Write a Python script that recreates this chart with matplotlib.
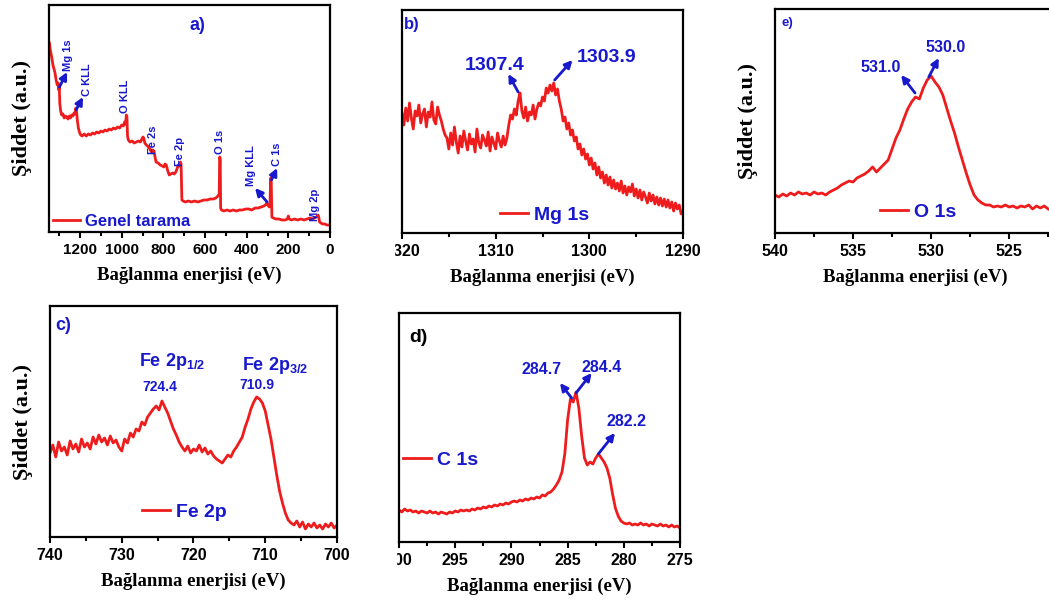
import matplotlib.pyplot as plt
import numpy as np
from matplotlib.patches import Rectangle
from matplotlib.ticker import MultipleLocator

plt.rcParams['font.family'] = ['Liberation Sans', 'DejaVu Sans']
plt.rcParams['font.weight'] = 'bold'
plt.rcParams['mathtext.default'] = 'regular'

RED = '#ee1c1c'
BLUE = '#1818cc'

# a) survey: binding energy (eV) and intensity (a.u.)
survey_ev = [1347, 1342, 1336, 1330, 1325, 1320, 1315, 1309, 1305, 1302, 1300, 1297, 1293, 1288,
             1282, 1276, 1270, 1264, 1258, 1252, 1246, 1240, 1234, 1229, 1224, 1220, 1217, 1213,
             1208, 1203, 1197, 1190, 1180, 1170, 1160, 1150, 1140, 1130, 1120, 1110, 1100, 1090,
             1080, 1070, 1060, 1050, 1040, 1030, 1020, 1010, 1000, 992, 986, 981, 978, 975, 972,
             968, 960, 950, 940, 930, 920, 910, 903, 898, 894, 889, 882, 875, 868, 860, 855, 850,
             845, 840, 835, 825, 815, 805, 798, 792, 786, 780, 772, 765, 755, 748, 740, 733, 728,
             722, 718, 715, 711, 705, 695, 680, 665, 650, 635, 620, 605, 590, 575, 560, 548, 538,
             532, 529, 527, 525, 521, 510, 495, 480, 465, 450, 435, 420, 405, 390, 375, 360, 345,
             330, 318, 310, 304, 298, 292, 288, 285, 282, 279, 272, 260, 245, 230, 215, 205, 200,
             196, 185, 170, 155, 140, 125, 110, 96, 85, 75, 65, 58, 55, 50, 44, 35, 25, 15, 5, 0]
survey_int = [189, 181, 175, 167, 163, 159, 152, 147, 149, 142, 146, 128, 121, 117,
              118, 114, 116, 115, 113, 116, 114, 117, 116, 119, 118, 124, 121, 112,
              104, 100, 97, 96, 98, 96, 98, 97, 99, 98, 100, 99, 101, 100,
              102, 101, 103, 102, 104, 103, 105, 104, 107, 106, 110, 108, 117, 116, 96,
              92, 90, 91, 89, 90, 91, 90, 93, 95, 94, 89, 87, 86, 84, 81, 80, 82,
              81, 75, 70, 69, 67, 66, 65, 68, 67, 62, 57, 58, 59, 58, 60, 64, 67,
              66, 70, 68, 32, 31, 30, 31, 30, 31, 30, 31, 32, 32, 33, 33, 34, 36,
              38, 75, 72, 24, 22, 21, 22, 21, 22, 21, 22, 22, 23, 23, 22, 24, 24,
              25, 26, 27, 29, 27, 25, 27, 54, 50, 15, 14, 13, 13, 12, 12, 13, 16,
              13, 12, 13, 12, 13, 12, 13, 14, 13, 14, 15, 17, 16, 10, 9, 8, 8, 7, 7, 7]

# b) Mg 1s, 1320 -> 1290 eV, evenly sampled
mg_int = [120, 108, 125, 112, 130, 115, 104, 122, 117, 128, 110, 119, 124, 106, 121, 116, 131, 113,
          109, 126, 118, 112, 104, 98,
          95, 84, 100, 88, 106, 91, 80, 97, 86, 102, 92, 83, 99, 89, 94, 81, 104, 90, 85, 98, 93,
          87, 101, 82, 96, 90, 84, 100, 92, 86, 97, 88, 95,
          108, 118, 114, 124, 118, 132, 140, 122, 115, 126, 112, 121, 118, 128, 114, 124,
          130, 127, 136, 132, 145, 140, 148, 142, 150, 138, 144, 132, 124, 112, 116, 104, 110,
          98, 103, 92, 96, 84, 89, 78, 84, 74, 79, 68, 75, 64, 70, 58, 66, 55, 61, 50, 58, 48,
          56, 45, 53, 44, 50, 42, 52, 40, 47, 38, 46, 41, 49, 37, 44, 35, 43, 33, 41, 36, 30,
          40, 32, 38, 29, 36, 28, 35, 27, 34, 26, 33, 25, 31, 22, 30, 24, 28, 19, 22]

# e) O 1s, 540 -> 522.5 eV, evenly sampled
o_int = [38, 36, 39, 37, 40, 38, 41, 39, 40, 38, 41, 39, 40, 38, 41, 43, 45, 48, 50, 52, 51, 55,
         57, 59, 62, 66, 61, 65, 69, 73, 84, 95, 103, 114, 124, 131, 136, 134, 145, 153, 157, 151,
         146, 138, 125, 112, 100, 86, 73, 60, 48, 38, 33, 30, 28, 28, 26, 27, 26, 28, 26, 27, 25,
         27, 26, 28, 24, 27, 25, 27, 24]

# c) Fe 2p, 740 -> 700 eV, evenly sampled
fe_int = [84, 92, 80, 95, 86, 90, 82, 96, 88, 93, 85, 98, 90, 94, 88, 100, 93, 102, 95, 99, 92,
          101, 94, 97, 90, 86, 98, 94, 104, 100, 108, 106, 115, 112, 120, 124, 128, 131, 127, 136,
          130, 124, 116, 108, 102, 95, 90, 86, 91, 84, 88, 86, 92, 85, 89, 83, 86, 81, 78, 76, 74,
          78, 82, 80, 86, 90, 95, 100, 110, 118, 128, 135, 140, 138, 134, 126, 112, 98, 80, 62,
          46, 34, 24, 17, 14, 12, 16, 10, 15, 8, 13, 10, 14, 9, 12, 8, 13, 10, 14, 9, 12]

# d) C 1s, 300 -> 275 eV, evenly sampled
c_int = [32, 30, 33, 31, 32, 30, 31, 29, 31, 30, 29, 31, 29, 30, 28, 30, 29, 28, 30, 29, 31, 30,
         32, 31, 32, 31, 33, 32, 34, 33, 35, 34, 36, 35, 37, 36, 38, 37, 39, 38, 40, 41, 40, 42,
         41, 43, 42, 44, 43, 45, 44, 47, 46, 49, 50, 53, 57, 62, 70, 88, 122, 143, 140, 150, 134,
         106, 84, 77, 80, 78, 84, 88, 84, 80, 74, 64, 48, 34, 26, 21, 19, 18, 19, 17, 18, 17, 19,
         17, 18, 16, 18, 17, 16, 18, 16, 17, 15, 17, 15, 16, 14]

W, H = 1049, 601
fig = plt.figure(figsize=(W / 100, H / 100), dpi=100)


def panel(x0, y0, x1, y1):
    return fig.add_axes([x0 / W, 1 - y1 / H, (x1 - x0) / W, (y1 - y0) / H])


def style(ax, xlim, major, minor, height, ylabel=True, tsize=11.5):
    ax.set_xlim(*xlim)
    ax.set_ylim(0, height)
    ax.xaxis.set_major_locator(MultipleLocator(major))
    ax.xaxis.set_minor_locator(MultipleLocator(minor))
    ax.set_yticks([])
    ax.tick_params(axis='x', which='major', direction='out', length=4, width=1.5,
                   labelsize=tsize, pad=4)
    ax.tick_params(axis='x', which='minor', direction='out', length=3, width=1.5)
    for s in ax.spines.values():
        s.set_linewidth(1.6)
    ax.set_xlabel('Bağlanma enerjisi (eV)', family='Liberation Serif', fontsize=13.5,
                  fontweight='bold', labelpad=7)
    if ylabel:
        ax.set_ylabel('Şiddet (a.u.)', family='Liberation Serif', fontsize=16,
                      fontweight='bold', labelpad=12)


def legend(ax, line, label, x, y, size=14, hl=1.45):
    ax.legend([line], [label], loc='center left', bbox_to_anchor=(x, y), frameon=False,
              borderpad=0, borderaxespad=0, handlelength=hl, handletextpad=0.3,
              prop=dict(weight='bold', size=size), labelcolor=BLUE)


def arrow(ax, tail, head):
    ax.annotate('', xy=head, xytext=tail,
                arrowprops=dict(arrowstyle='-|>', color=BLUE, lw=2, mutation_scale=11,
                                shrinkA=0, shrinkB=0))


# a) survey
ax = panel(49, 5, 330, 232)
ln, = ax.plot(survey_ev, survey_int, color=RED, lw=2)
style(ax, (1349, 0), 200, 100, 227, tsize=11)
legend(ax, ln, 'Genel tarama', 0.014, 0.048, size=12, hl=1.6)
ax.text(638, 207, 'a)', color=BLUE, fontsize=13, ha='center', va='center')
for txt, x, y in [('Mg 1s', 1256, 177), ('C KLL', 1168, 152), ('O KLL', 984, 136),
                  ('Fe 2s', 850, 92), ('Fe 2p', 720, 80), ('O 1s', 528, 90),
                  ('Mg KLL', 379, 66), ('C 1s', 254, 78), ('Mg 2p', 72, 27)]:
    ax.text(x, y, txt, rotation=90, ha='center', va='center', fontsize=8, color=BLUE)
arrow(ax, (1299, 145), (1262, 160))
arrow(ax, (1219, 122), (1186, 135))
arrow(ax, (302, 30), (360, 44))
arrow(ax, (281, 52), (254, 64))

# b) Mg 1s
ax = panel(402, 10, 683, 233)
ln, = ax.plot(np.linspace(1320, 1290, len(mg_int)), mg_int, color=RED, lw=2)
style(ax, (1320, 1290), 10, 5, 223, ylabel=False)
legend(ax, ln, 'Mg 1s', 0.349, 0.081)
ax.text(1319, 208, 'b)', color=BLUE, fontsize=12, ha='center', va='center')
ax.text(1310.1, 168, '1307.4', color=BLUE, fontsize=14, ha='center', va='center')
ax.text(1298.2, 175, '1303.9', color=BLUE, fontsize=14, ha='center', va='center')
arrow(ax, (1307.6, 141), (1308.65, 159))
arrow(ax, (1303.7, 153), (1301.8, 173))

# e) O 1s
ax = panel(775, 9, 1056, 233)
ln, = ax.plot(np.linspace(540, 522.5, len(o_int)), o_int, color=RED, lw=2)
style(ax, (540, 522), 5, 2.5, 224)
legend(ax, ln, 'O 1s', 0.374, 0.094)
ax.text(539.2, 210, 'e)', color=BLUE, fontsize=9.5, ha='center', va='center')
ax.text(533.25, 166, '531.0', color=BLUE, fontsize=11.5, ha='center', va='center')
ax.text(529.05, 186, '530.0', color=BLUE, fontsize=11.5, ha='center', va='center')
arrow(ax, (531.03, 140), (531.92, 158))
arrow(ax, (530.15, 156), (529.51, 175))

# c) Fe 2p
ax = panel(50, 306, 337, 537)
ln, = ax.plot(np.linspace(740, 700, len(fe_int)), fe_int, color=RED, lw=2)
style(ax, (740, 700), 10, 5, 231)
legend(ax, ln, 'Fe 2p', 0.32, 0.108)
ax.text(738.2, 212, 'c)', color=BLUE, fontsize=13, ha='center', va='center')
ax.text(723.0, 175, 'Fe 2p$_{1/2}$', color=BLUE, fontsize=13, ha='center', va='center')
ax.text(708.6, 172, 'Fe 2p$_{3/2}$', color=BLUE, fontsize=13, ha='center', va='center')
ax.text(724.7, 150, '724.4', color=BLUE, fontsize=10, ha='center', va='center')
ax.text(711.2, 152, '710.9', color=BLUE, fontsize=10, ha='center', va='center')

# d) C 1s
ax = panel(399, 313, 680, 542)
ln, = ax.plot(np.linspace(300, 275, len(c_int)), c_int, color=RED, lw=2)
style(ax, (300, 275), 5, 2.5, 229, ylabel=False)
legend(ax, ln, 'C 1s', 0.014, 0.358)
ax.text(298.3, 204, 'd)', color='black', fontsize=14, ha='center', va='center')
ax.text(287.3, 172, '284.7', color=BLUE, fontsize=11.5, ha='center', va='center')
ax.text(281.97, 175, '284.4', color=BLUE, fontsize=11.5, ha='center', va='center')
ax.text(279.74, 120, '282.2', color=BLUE, fontsize=11.5, ha='center', va='center')
arrow(ax, (284.64, 144), (285.68, 159))
arrow(ax, (284.25, 149), (282.86, 169))
arrow(ax, (282.27, 88), (280.78, 109))

# the source figure was cropped through the first tick labels of b) and d)
for x0, x1, y0, y1 in [(365, 393.5, 238, 262), (352, 396, 546, 570)]:
    fig.add_artist(Rectangle((x0 / W, 1 - y1 / H), (x1 - x0) / W, (y1 - y0) / H,
                             transform=fig.transFigure, color='white', zorder=10))

fig.savefig('out.png', dpi=100)
